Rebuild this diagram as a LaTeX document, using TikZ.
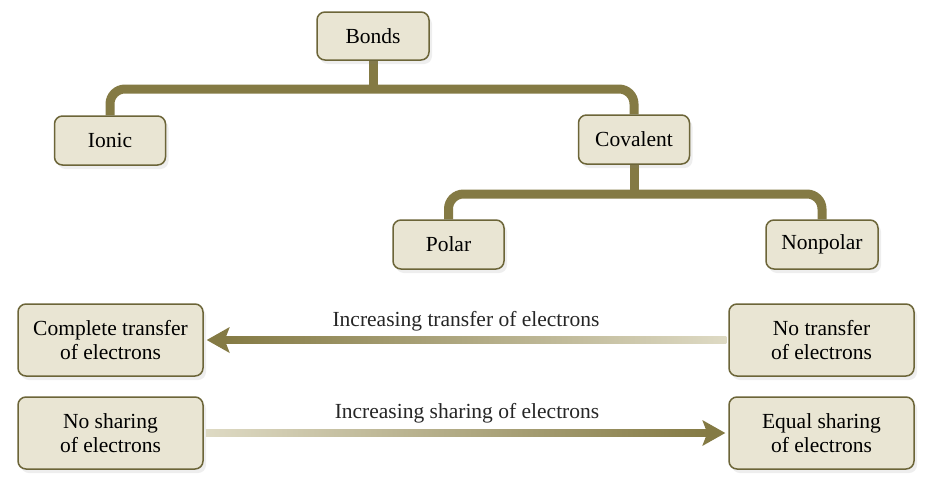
\documentclass[tikz,border=0pt]{standalone}
\usepackage{fontspec}
\setmainfont{Liberation Serif}
\usetikzlibrary{shadows,calc,backgrounds}
\definecolor{olive}{RGB}{132,122,68}
\definecolor{boxfill}{RGB}{233,229,211}
\definecolor{boxline}{RGB}{108,101,56}
\definecolor{lite}{RGB}{222,218,196}
\tikzset{
  bx/.style={draw=boxline, line width=1.5pt, fill=boxfill, rounded corners=8pt,
    inner sep=0pt, align=center, font=\fontsize{21.5}{24.5}\selectfont,
    drop shadow={opacity=0.13, shadow xshift=3pt, shadow yshift=-4pt}},
  small/.style={bx, minimum width=111pt, minimum height=49pt},
  big/.style={bx, minimum width=185pt, minimum height=72pt},
  conn/.style={draw=olive, line width=9pt, rounded corners=15pt},
  stem/.style={draw=olive, line width=9pt},
  lbl/.style={inner sep=0pt, font=\fontsize{21.5}{24.5}\selectfont, text=black!85}
}
\begin{document}
\begin{tikzpicture}[x=1pt,y=-1pt]
\useasboundingbox (0,0) rectangle (943,501);
% tree nodes
\node[small, minimum width=112pt, minimum height=48pt] (bonds) at (373,36) {Bonds};
\node[small] (ionic) at (110,140.5) {Ionic};
\node[small] (covalent) at (634,139.5) {Covalent};
\node[small] (polar) at (448.5,244.5) {Polar};
\node[small, minimum width=112pt] (nonpolar) at (822,244.5) {Nonpolar};
% connectors of tree, behind the boxes
\coordinate (bar1) at (373,89);
\coordinate (bar2) at (634,194);
\begin{scope}[on background layer]
\fill[white] (0,0) rectangle (943,501);
\draw[stem] (bonds.south) -- (bar1);
\draw[conn] (ionic.north) -- (ionic.north |- bar1) -- (covalent.north |- bar1) -- (covalent.north);
\draw[stem] (covalent.south) -- (bar2);
\draw[conn] (polar.north) -- (polar.north |- bar2) -- (nonpolar.north |- bar2) -- (nonpolar.north);
\end{scope}
% bottom boxes
\node[big] (ct) at (110.5,340) {Complete transfer\\of electrons};
\node[big] (nt) at (821.5,340) {No transfer\\of electrons};
\node[big] (ns) at (110.5,433) {No sharing\\of electrons};
\node[big] (es) at (821.5,433) {Equal sharing\\of electrons};
% arrow 1: right to left
\shade[left color=olive, right color=lite]
  ($(ct.east)+(20,-3.75)$) rectangle ($(nt.west)+(-2,3.75)$);
\fill[olive] ($(ct.east)+(3,0)$) -- ++(23,-13) -- ++(-5,13) -- ++(5,13) -- cycle;
% arrow 2: left to right
\shade[left color=lite, right color=olive]
  ($(ns.east)+(2,-3.75)$) rectangle ($(es.west)+(-20,3.75)$);
\fill[olive] ($(es.west)+(-3,0)$) -- ++(-23,-13) -- ++(5,13) -- ++(-5,13) -- cycle;
% labels
\node[lbl] (l1) at (466,321) {Increasing transfer of electrons};
\node[lbl] (l2) at (467,413) {Increasing sharing of electrons};
\end{tikzpicture}
\end{document}
